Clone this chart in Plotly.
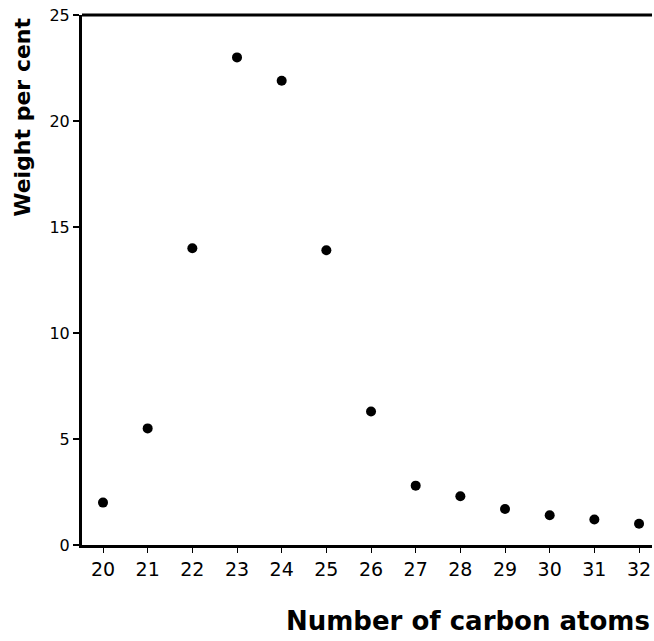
import plotly.graph_objects as go

carbon_atoms = [20, 21, 22, 23, 24, 25, 26, 27, 28, 29, 30, 31, 32]
weight_pct = [2.0, 5.5, 14.0, 23.0, 21.9, 13.9, 6.3, 2.8, 2.3, 1.7, 1.4, 1.2, 1.0]
x_ticks = carbon_atoms
y_ticks = [0, 5, 10, 15, 20, 25]

font = "DejaVu Sans, Liberation Sans, sans-serif"

fig = go.Figure()
fig.add_trace(go.Scatter(
    x=carbon_atoms, y=weight_pct, mode="markers",
    marker=dict(color="black", size=10),
    showlegend=False, cliponaxis=False,
))

fig.update_layout(
    width=654, height=641,
    margin=dict(l=82, r=2, t=15, b=96),
    paper_bgcolor="white", plot_bgcolor="white",
    font=dict(family=font, color="black"),
    xaxis=dict(
        range=[19.53, 32.29], tickvals=x_ticks, ticktext=[str(v) for v in x_ticks],
        showgrid=False, zeroline=False, showline=True, linecolor="black", linewidth=3,
        ticks="outside", ticklen=5, tickwidth=1, tickcolor="black",
        tickfont=dict(size=19, family=font),
    ),
    yaxis=dict(
        range=[0, 25], tickvals=y_ticks,
        showgrid=False, zeroline=False, showline=True, linecolor="black", linewidth=3,
        ticks="outside", ticklen=6, tickwidth=1.5, tickcolor="black",
        tickfont=dict(size=16, family=font),
    ),
    shapes=[dict(type="line", xref="paper", yref="paper", x0=0, x1=1, y0=1, y1=1,
                 line=dict(color="black", width=3))],
    annotations=[
        dict(text="Number of carbon atoms", xref="paper", yref="paper",
             x=1.0, y=-0.1434, xanchor="right", yanchor="middle", showarrow=False,
             font=dict(size=26, family=font, weight="bold")),
        dict(text="Weight per cent", xref="paper", yref="paper",
             x=-0.1035, y=0.806, xanchor="center", yanchor="middle", textangle=-90, showarrow=False,
             font=dict(size=22, family=font, weight="bold")),
    ],
)

fig.write_html("out.html")
